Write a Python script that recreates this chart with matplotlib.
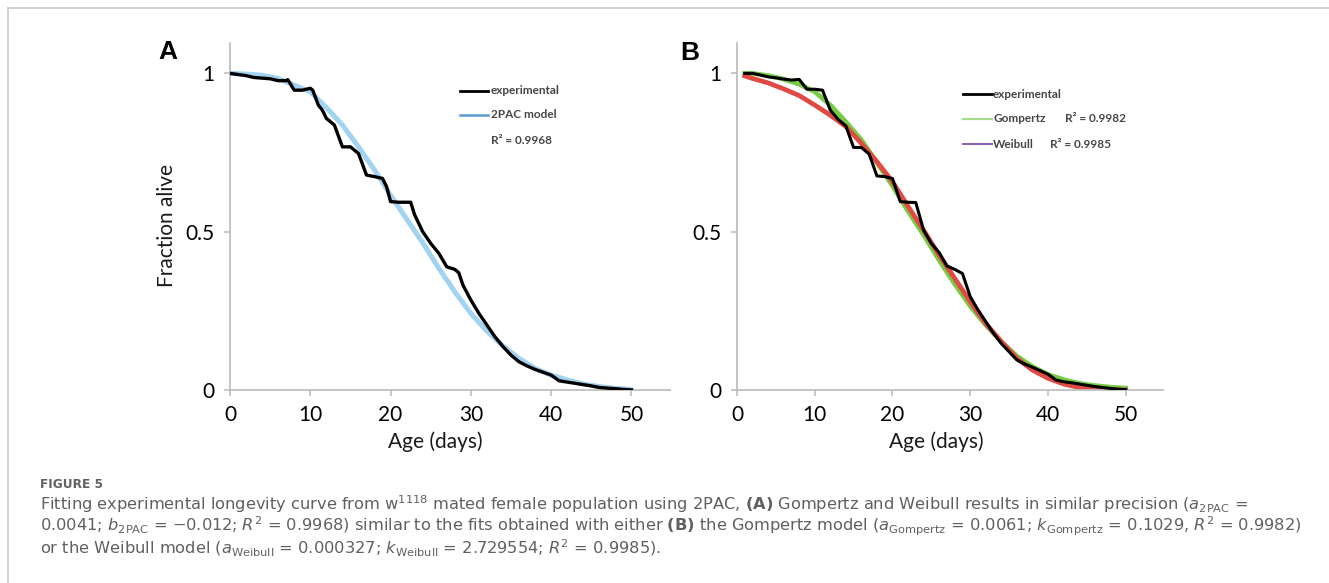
import matplotlib
matplotlib.use("Agg")
import matplotlib.pyplot as plt
from matplotlib.lines import Line2D

plt.rcParams['font.family'] = ['Lato', 'DejaVu Sans']
plt.rcParams['mathtext.fontset'] = 'dejavusans'

# ---------------- data ----------------
# Panel A: experimental survival
days_a = [0, 2, 3, 5, 6, 7, 7.2, 8, 9, 10, 10.3, 11, 11.5, 12, 13, 14, 15, 16, 17, 18, 19, 19.5,
          20, 21, 22, 22.5, 23, 24, 25, 26, 27, 28, 28.5, 29, 30, 31, 32, 33, 34, 35, 36, 37,
          38, 39, 40, 41, 42, 43, 44, 45, 46, 47, 48, 49, 50]
exp_a = [1.0, 0.993, 0.987, 0.983, 0.977, 0.977, 0.98, 0.947, 0.947, 0.953, 0.947, 0.90, 0.884,
         0.858, 0.837, 0.768, 0.768, 0.747, 0.679, 0.674, 0.668, 0.642,
         0.595, 0.593, 0.593, 0.593, 0.553, 0.50, 0.463, 0.432, 0.389, 0.381, 0.37, 0.332, 0.284,
         0.242, 0.205, 0.168, 0.137, 0.11, 0.089, 0.076, 0.065, 0.056, 0.047, 0.029, 0.025,
         0.021, 0.017, 0.013, 0.008, 0.006, 0.004, 0.002, 0.0]

# Panel A: 2PAC model
days_m = [0, 2, 4, 6, 8, 10, 12, 14, 16, 18, 20, 22, 24, 26, 28, 30, 32, 34, 36, 38, 40,
          42, 44, 46, 48, 50]
pac2 = [1.0, 0.998, 0.994, 0.984, 0.963, 0.942, 0.892, 0.837, 0.768, 0.695, 0.615, 0.54,
        0.465, 0.385, 0.31, 0.242, 0.186, 0.139, 0.10, 0.068, 0.047, 0.032, 0.019, 0.011,
        0.005, 0.002]

# Panel B: experimental survival
days_b = list(range(1, 51))
exp_b = [1.0, 1.0, 0.995, 0.989, 0.986, 0.982, 0.979, 0.981, 0.95, 0.95, 0.947, 0.884,
         0.855, 0.834, 0.766, 0.766, 0.745, 0.676, 0.674, 0.668, 0.595, 0.593, 0.592,
         0.505, 0.463, 0.434, 0.392, 0.381, 0.368, 0.295, 0.253, 0.216, 0.179, 0.147,
         0.121, 0.095, 0.082, 0.072, 0.061, 0.05, 0.032, 0.026, 0.023, 0.019, 0.015,
         0.011, 0.008, 0.005, 0.003, 0.001]

# Panel B: Gompertz and Weibull models
days_g = [1, 2, 4, 6, 8, 10, 12, 14, 16, 18, 20, 22, 24, 26, 28, 30, 32, 34, 36, 38, 40,
          42, 44, 46, 48, 50]
gompertz = [1.0, 1.0, 0.993, 0.982, 0.966, 0.942, 0.90, 0.847, 0.79, 0.718, 0.645, 0.565,
            0.49, 0.41, 0.335, 0.265, 0.205, 0.153, 0.107, 0.074, 0.049, 0.033, 0.021,
            0.014, 0.009, 0.006]
weibull = [0.992, 0.984, 0.97, 0.951, 0.93, 0.90, 0.868, 0.832, 0.779, 0.721, 0.658,
           0.58, 0.505, 0.426, 0.353, 0.279, 0.21, 0.153, 0.10, 0.063, 0.037, 0.019,
           0.008, 0.003, 0.001, 0.0]

x_ticks = [0, 10, 20, 30, 40, 50]
y_ticks = [0, 0.5, 1]
y_ticklabels = ["0", "0.5", "1"]

# ---------------- figure ----------------
W, H = 1329, 583
fig = plt.figure(figsize=(W / 100, H / 100), dpi=100)
fig.patch.set_facecolor('white')

def fx(px):
    return px / W

def fy(py):
    return 1 - py / H

spine_c = '#bfbfbf'

def style_axes(ax, label_x):
    ax.set_xlim(0, 54.8)
    ax.set_ylim(0, 1.096)
    for s in ['top', 'right']:
        ax.spines[s].set_visible(False)
    for s in ['left', 'bottom']:
        ax.spines[s].set_color(spine_c)
        ax.spines[s].set_linewidth(1.3)
    ax.set_xticks(x_ticks)
    ax.set_yticks(y_ticks)
    ax.set_yticklabels(y_ticklabels)
    ax.tick_params(axis='both', colors=spine_c, labelcolor='black', length=4, width=1.2,
                   labelsize=15, pad=7)
    ax.set_xlabel("Age (days)", fontsize=15, color='#1a1a1a')
    ax.xaxis.set_label_coords(label_x, -0.12)

# Panel A
axA = fig.add_axes([fx(230), fy(390), fx(670) - fx(230), fy(43) - fy(390)])
style_axes(axA, 0.466)
axA.plot(days_m, pac2, color='#a3d3f2', lw=3.6, solid_capstyle='round', zorder=2)
axA.plot(days_a, exp_a, color='black', lw=2.4, zorder=3)
axA.set_ylabel("Fraction alive", fontsize=15, color='#1a1a1a')
axA.yaxis.set_label_coords(-0.12, 0.473)

# Panel B
axB = fig.add_axes([fx(737), fy(390), fx(1163) - fx(737), fy(43) - fy(390)])
style_axes(axB, 0.469)
axB.plot(days_g, gompertz, color='#76cc45', lw=3.4, zorder=2)
axB.plot(days_g, weibull, color='#e04a42', lw=3.4, zorder=2.5)
axB.plot(days_b, exp_b, color='black', lw=2.2, zorder=3)

# Legends (drawn as figure-level text and lines)
leg_fs = 8.5
leg_c = '#454545'

def leg_line(x0, x1, y, color, lw):
    fig.add_artist(Line2D([fx(x0), fx(x1)], [fy(y), fy(y)], color=color, lw=lw,
                          transform=fig.transFigure))

def leg_text(x, y, s):
    fig.text(fx(x), fy(y), s, fontsize=leg_fs, color=leg_c, fontweight='bold',
             va='center', ha='left')

leg_line(460, 488, 91, 'black', 2.0)
leg_text(491, 91, "experimental")
leg_line(460, 488, 115, '#5b9bd5', 1.8)
leg_text(491, 115, "2PAC model")
leg_text(491, 141, "R² = 0.9968")

leg_line(963, 992, 94, 'black', 2.0)
leg_text(993, 94, "experimental")
leg_line(963, 992, 119, '#a9db8c', 1.6)
leg_text(993, 119, "Gompertz")
leg_text(1065, 119, "R² = 0.9982")
leg_line(963, 992, 144, '#8a5cbf', 1.4)
leg_text(993, 144, "Weibull")
leg_text(1050, 144, "R² = 0.9985")

# Panel letters
fig.text(fx(158), fy(52), "A", fontsize=19, fontweight='bold', family='Liberation Sans',
         va='center', ha='left')
fig.text(fx(680), fy(53), "B", fontsize=19, fontweight='bold', family='Liberation Sans',
         va='center', ha='left')

# Frame lines
fig.add_artist(Line2D([fx(8), 1], [fy(7.5), fy(7.5)], color='#d0d0d0', lw=1.4,
                      transform=fig.transFigure))
fig.add_artist(Line2D([fx(8), fx(8)], [fy(7.5), 0], color='#d0d0d0', lw=1.4,
                      transform=fig.transFigure))

# Caption
cap_c = '#606060'
cap_font = 'DejaVu Sans'
line1 = (r"Fitting experimental longevity curve from w$^{1118}$ mated female population using 2PAC, "
         r"$\mathbf{(A)}$ Gompertz and Weibull results in similar precision ($a_{\mathrm{2PAC}}$ =")
line2 = (r"0.0041; $b_{\mathrm{2PAC}}$ = −0.012; $R^{2}$ = 0.9968) similar to the fits obtained with either "
         r"$\mathbf{(B)}$ the Gompertz model ($a_{\mathrm{Gompertz}}$ = 0.0061; $k_{\mathrm{Gompertz}}$ = 0.1029, "
         r"$R^{2}$ = 0.9982)")
line3 = (r"or the Weibull model ($a_{\mathrm{Weibull}}$ = 0.000327; $k_{\mathrm{Weibull}}$ = 2.729554; "
         r"$R^{2}$ = 0.9985).")

renderer = fig.canvas.get_renderer()

def fit_size(s, target_px, base=10.0, **kw):
    t = fig.text(0, 0, s, fontsize=base, **kw)
    w = t.get_window_extent(renderer=renderer).width
    t.remove()
    return base * target_px / w

cap_fs = fit_size(line2, 1257, family=cap_font)
fig_fs = fit_size("FIGURE 5", 63, family=cap_font, fontweight='bold')

fig.text(fx(40), fy(485), "FIGURE 5", fontsize=fig_fs, color=cap_c, family=cap_font,
         fontweight='bold', va='center', ha='left')
for s, y in [(line1, 504), (line2, 526), (line3, 548)]:
    fig.text(fx(40), fy(y), s, fontsize=cap_fs, color=cap_c, family=cap_font,
             va='center', ha='left')

fig.savefig("out.png", dpi=100, facecolor='white')
